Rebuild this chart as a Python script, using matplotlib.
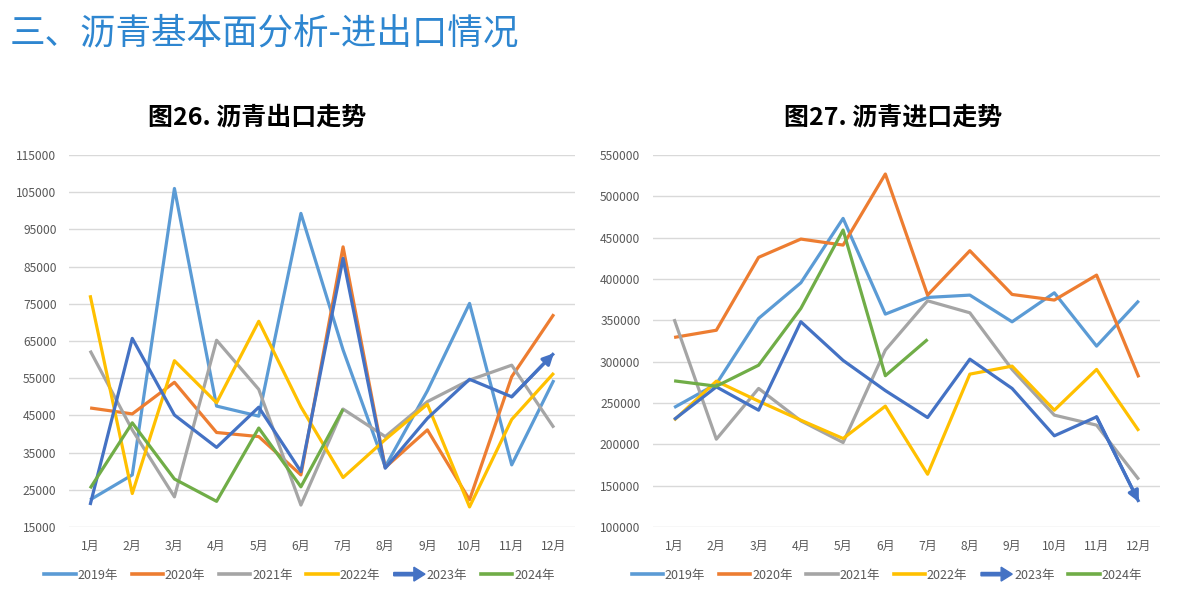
import matplotlib.pyplot as plt
from matplotlib.lines import Line2D
from matplotlib.patches import FancyArrow
from matplotlib.legend_handler import HandlerPatch

plt.rcParams['font.family'] = ['Noto Sans CJK SC', 'DejaVu Sans']

months = ['1月', '2月', '3月', '4月', '5月', '6月', '7月', '8月', '9月', '10月', '11月', '12月']
years = ['2019年', '2020年', '2021年', '2022年', '2023年', '2024年']
colors = ['#5B9BD5', '#ED7D31', '#A5A5A5', '#FFC000', '#4472C4', '#70AD47']

# 沥青出口 (吨)
export_2019 = [22300, 29000, 106000, 47500, 44800, 99300, 62600, 31200, 51600, 75100, 31700, 54500]
export_2020 = [47000, 45400, 53900, 40400, 39300, 29000, 90300, 31000, 41100, 22300, 55400, 72200]
export_2021 = [62400, 41100, 23100, 65200, 52000, 20900, 46700, 39300, 48700, 54500, 58500, 41700]
export_2022 = [77300, 24000, 59700, 48400, 70300, 47300, 28300, 38500, 48000, 20400, 43900, 56400]
export_2023 = [20900, 65700, 45100, 36400, 47200, 29900, 87200, 30800, 44200, 54700, 50000, 61700]
export_2024 = [25400, 43000, 27900, 21900, 41600, 25800, 46700]

# 沥青进口 (吨)
import_2019 = [244500, 273000, 352300, 395400, 473300, 357500, 377700, 380500, 348200, 383300, 318800, 373700]
import_2020 = [329300, 338000, 426200, 448300, 441000, 527000, 380500, 434200, 381300, 374500, 404700, 281000]
import_2021 = [351500, 206200, 267600, 228400, 202200, 314000, 373600, 359100, 290600, 235300, 223200, 157400]
import_2022 = [229200, 276400, 252200, 229200, 207000, 246200, 163800, 284900, 294600, 241300, 290600, 216300]
import_2023 = [230000, 269500, 241300, 348300, 301500, 265000, 232400, 303000, 267600, 210300, 233200, 130300]
import_2024 = [276800, 270300, 295700, 364400, 459200, 283000, 326900]

export_series = [export_2019, export_2020, export_2021, export_2022, export_2023, export_2024]
import_series = [import_2019, import_2020, import_2021, import_2022, import_2023, import_2024]


def arrow_handle(legend, orig_handle, xdescent, ydescent, width, height, fontsize):
    y = height / 2 - ydescent
    return FancyArrow(-xdescent, y, width, 0, width=2.4, head_width=10, head_length=8,
                      length_includes_head=True, color=colors[4])


def draw_panel(ax, series, ylim, step):
    x = list(range(len(months)))
    for i, vals in enumerate(series):
        ax.plot(x[:len(vals)], vals, color=colors[i], lw=2.3, solid_capstyle='butt', zorder=3 + i)
        if i == 4:
            ax.annotate('', xy=(x[len(vals) - 1], vals[-1]), xytext=(x[len(vals) - 2], vals[-2]),
                        arrowprops=dict(arrowstyle='-|>', color=colors[i], lw=2.3,
                                        mutation_scale=16, shrinkA=0, shrinkB=0),
                        zorder=3 + i)
    ax.set_xlim(-0.5, 11.5)
    ax.set_ylim(*ylim)
    ax.set_yticks(range(ylim[0], ylim[1] + 1, step))
    ax.set_xticks(x)
    ax.set_xticklabels(months)
    ax.grid(axis='y', color='#D9D9D9', lw=1)
    ax.set_axisbelow(True)
    for s in ax.spines.values():
        s.set_visible(False)
    ax.tick_params(length=0, labelsize=8.7, labelcolor='#595959')
    ax.tick_params(axis='x', pad=9)
    ax.tick_params(axis='y', pad=9)


fig = plt.figure(figsize=(11.84, 6.04), dpi=100)
fig.text(0.008, 0.945, '三、沥青基本面分析-进出口情况', fontsize=25.6, color='#2E86D0', va='center')

ax1 = fig.add_axes([0.0583, 0.1275, 0.4273, 0.6159])
ax2 = fig.add_axes([0.5515, 0.1275, 0.4282, 0.6159])
draw_panel(ax1, export_series, (15000, 115000), 10000)
draw_panel(ax2, import_series, (100000, 550000), 50000)
fig.text(0.217, 0.805, '图26. 沥青出口走势', fontsize=18, fontweight='bold', ha='center', va='center')
fig.text(0.754, 0.805, '图27. 沥青进口走势', fontsize=18, fontweight='bold', ha='center', va='center')

handles = []
for i, c in enumerate(colors):
    if i == 4:
        handles.append(FancyArrow(0, 0, 1, 0, color=c))
    else:
        handles.append(Line2D([], [], color=c, lw=2.6))

for cx in (0.253, 0.749):
    fig.legend(handles, years, loc='center', bbox_to_anchor=(cx, 0.048), ncol=6, frameon=False,
               fontsize=9, labelcolor='#595959', handlelength=2.5, handletextpad=0.15,
               columnspacing=1.1, handler_map={FancyArrow: HandlerPatch(patch_func=arrow_handle)})

fig.savefig('out.png', dpi=100)
